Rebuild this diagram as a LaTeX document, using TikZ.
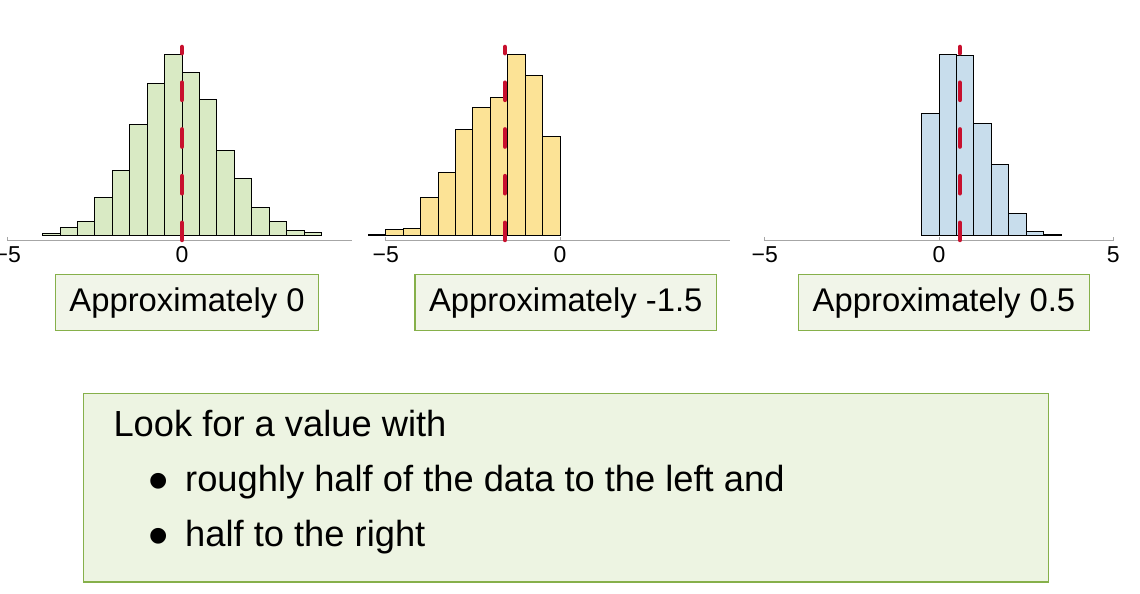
\documentclass[tikz,border=0pt]{standalone}
\usepackage{fontspec}
\setmainfont{Liberation Sans}
\definecolor{histgreen}{RGB}{217,234,196}
\definecolor{histyellow}{RGB}{252,227,150}
\definecolor{histblue}{RGB}{200,221,236}
\definecolor{medianred}{RGB}{200,16,46}
\definecolor{labelfill}{RGB}{241,245,233}
\definecolor{hintfill}{RGB}{237,244,226}
\definecolor{boxgreen}{RGB}{134,176,74}
\tikzset{
  bar/.style={draw=black, line width=0.8pt},
  axisline/.style={draw=gray!70, line width=1pt},
  ticklabel/.style={inner sep=0pt, font=\fontsize{23}{26}\selectfont},
  medianline/.style={medianred, line width=4.5pt, line cap=round, dash pattern=on 17.2pt off 29.5pt},
  labelbox/.style={draw=boxgreen, fill=labelfill, line width=1.3pt, minimum height=56pt,
    inner xsep=14pt, inner ysep=0pt, font=\fontsize{32.8}{39}\selectfont},
  hinttext/.style={anchor=base west, inner sep=0pt, font=\fontsize{36.3}{43}\selectfont},
  bulletmark/.style={anchor=base west, inner sep=0pt, font=\fontsize{58}{60}\selectfont}
}

\begin{document}
\begin{tikzpicture}[x=1pt, y=1pt]
    \useasboundingbox (0,0) rectangle (1140,594);
    % Histogram centred at 0
    \begin{scope}[shift={(182,359)}, x=34.85pt, y=1pt]
      \draw[axisline] (-5,-2) -- (-5,-6) -- (4.87,-6);
      \draw[axisline] (0,-6) -- (0,-2);
      \foreach \h [count=\i from 0] in {2,7.7,13.3,38,64.3,110.3,151.7,180.3,163,135.7,84.7,56.7,27.3,13.3,4.7,2.7}
        \draw[bar, fill=histgreen] ({-4+0.5*\i},0) rectangle ++(0.5,\h);
      \draw[medianline] (0,-5) -- (0,188);
      \node[ticklabel] (tickAm) at (-5,-20) {−5};
      \node[ticklabel] (tickAz) at (0,-20) {0};
    \end{scope}
    % Histogram skewed to the left
    \begin{scope}[shift={(560,359)}, x=34.85pt, y=1pt]
      \draw[axisline] (-5,-2) -- (-5,-6) -- (4.87,-6);
      \draw[axisline] (0,-6) -- (0,-2);
      \foreach \h [count=\i from 0] in {1,5.7,7,38,62.7,106,127.7,137.7,180.3,159.7,98.7}
        \draw[bar, fill=histyellow] ({-5.5+0.5*\i},0) rectangle ++(0.5,\h);
      \draw[medianline] (-1.58,-5) -- (-1.58,188);
      \node[ticklabel] (tickBm) at (-5,-20) {−5};
      \node[ticklabel] (tickBz) at (0,-20) {0};
    \end{scope}
    % Histogram skewed to the right
    \begin{scope}[shift={(939,359)}, x=34.85pt, y=1pt]
      \draw[axisline] (-5,-2) -- (-5,-6) -- (5,-6) -- (5,-2);
      \draw[axisline] (0,-6) -- (0,-2);
      \foreach \h [count=\i from 0] in {121.7,180.3,179.7,111.7,70.7,21.7,4,0.7}
        \draw[bar, fill=histblue] ({-0.5+0.5*\i},0) rectangle ++(0.5,\h);
      \draw[medianline] (0.6,-5) -- (0.6,188);
      \node[ticklabel] (tickCm) at (-5,-20) {−5};
      \node[ticklabel] (tickCz) at (0,-20) {0};
      \node[ticklabel] (tickCp) at (5,-20) {5};
    \end{scope}
    % Answers
    \node[labelbox] (approxZero) at (187,291.3) {Approximately 0};
    \node[labelbox] (approxNeg) at (565.8,291.3) {Approximately -1.5};
    \node[labelbox] (approxPos) at (944,291.3) {Approximately 0.5};
    % Hint
    \node[draw=boxgreen, fill=hintfill, line width=1.3pt, minimum width=965pt, minimum height=188.7pt,
      inner sep=0pt] (hint) at (565.8,106.35) {};
    \node[hinttext] (hintHead) at (113.3,157.5) {Look for a value with};
    \node[bulletmark] (bulletLeft) at (148.3,93) {\textbullet};
    \node[hinttext] (hintLeft) at (185,102.3) {roughly half of the data to the left and};
    \node[bulletmark] (bulletRight) at (148.3,38.7) {\textbullet};
    \node[hinttext] (hintRight) at (185,47) {half to the right};
  \end{tikzpicture}
\end{document}
